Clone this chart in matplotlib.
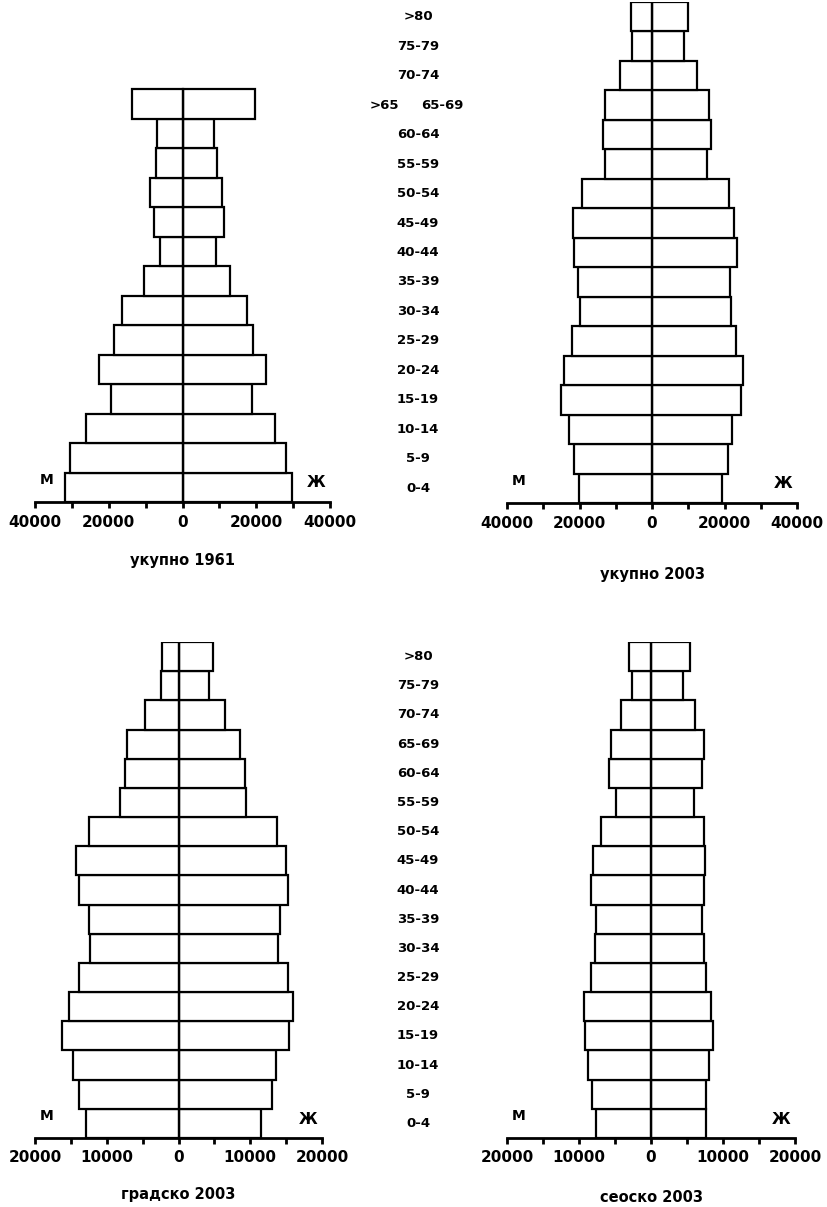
import matplotlib.pyplot as plt
from matplotlib import transforms

# age groups (bottom to top)
age_groups = ['0-4', '5-9', '10-14', '15-19', '20-24', '25-29', '30-34', '35-39',
              '40-44', '45-49', '50-54', '55-59', '60-64', '65-69', '70-74', '75-79', '>80']
age_groups_1961 = age_groups[:13] + ['>65']

# ukupno 1961
male_1961 = [31800, 30400, 26200, 19300, 22700, 18600, 16400, 10400, 6100, 7800,
             8900, 7200, 6800, 13800]
female_1961 = [29600, 28200, 25100, 18900, 22600, 19200, 17600, 13000, 9200, 11200,
               10700, 9400, 8500, 19600]

# ukupno 2003
male_2003 = [20100, 21600, 23000, 25100, 24400, 22100, 19800, 20300, 21500, 21800,
             19400, 13000, 13500, 13000, 8700, 5500, 5700]
female_2003 = [19300, 20900, 22000, 24500, 25000, 23200, 21800, 21500, 23400, 22700,
               21300, 15200, 16300, 15600, 12500, 8800, 10000]

# gradsko 2003
male_urban = [12900, 13900, 14700, 16200, 15300, 13900, 12400, 12500, 13800, 14300,
              12500, 8100, 7500, 7200, 4600, 2500, 2300]
female_urban = [11500, 13000, 13600, 15400, 15900, 15200, 13800, 14200, 15200, 15000,
                13700, 9400, 9200, 8600, 6500, 4300, 4800]

# seosko 2003
male_rural = [7700, 8200, 8700, 9100, 9300, 8300, 7800, 7700, 8300, 8000,
              6900, 4900, 5900, 5600, 4100, 2700, 3000]
female_rural = [7600, 7600, 8100, 8600, 8300, 7700, 7300, 7100, 7300, 7500,
                7300, 6000, 7100, 7300, 6100, 4500, 5400]

titles = ['укупно 1961', 'укупно 2003', 'градско 2003', 'сеоско 2003']

W, H = 827, 1207
fig = plt.figure(figsize=(W / 100, H / 100), dpi=100)
fig.patch.set_facecolor('white')


def px_axes(left, bottom, width, height):
    # rectangle given in image pixels (y from top)
    return fig.add_axes([left / W, (H - bottom) / H, width / W, height / H])


def pyramid(ax, male, female, lim, major, minor, title, title_off):
    n = len(male)
    ys = list(range(n))
    ax.barh(ys, [-m for m in male], height=1.0, color='white', edgecolor='black', linewidth=1.6)
    ax.barh(ys, female, height=1.0, color='white', edgecolor='black', linewidth=1.6)
    # thin centre line
    ax.plot([0, 0], [-0.5, n - 0.5], color='black', linewidth=1.0)
    ax.set_xlim(-lim, lim)
    ax.set_ylim(-0.5, 16.5)
    for s in ['left', 'right', 'top']:
        ax.spines[s].set_visible(False)
    ax.spines['bottom'].set_linewidth(2)
    ax.set_yticks([])
    ax.set_xticks(major)
    ax.set_xticklabels([str(abs(v)) for v in major], fontsize=11, fontweight='bold')
    ax.set_xticks(minor, minor=True)
    ax.tick_params(axis='x', which='both', direction='out', length=4, width=2, pad=5)
    ax.text(-lim * 0.97, 0.25, 'М', fontsize=10, fontweight='bold', ha='left', va='center')
    ax.text(lim * 0.97, 0.15, 'Ж', fontsize=11, fontweight='bold', ha='right', va='center')
    ax.annotate(title, xy=(0, -0.5), xycoords='data', xytext=(0, -title_off),
                textcoords='offset pixels', ha='center', va='center',
                fontsize=10.5, fontweight='bold')
    ax.set_facecolor('none')


ax1 = px_axes(35, 502, 295, 501)
ax2 = px_axes(507, 503, 290, 501)
ax3 = px_axes(35, 1138, 287, 496)
ax4 = px_axes(507, 1138, 288, 496)

big = [-40000, -20000, 0, 20000, 40000]
big_minor = [-30000, -10000, 10000, 30000]
small = [-20000, -10000, 0, 10000, 20000]
small_minor = [-15000, -5000, 5000, 15000]

pyramid(ax1, male_1961, female_1961, 40000, big, big_minor, titles[0], 58)
pyramid(ax2, male_2003, female_2003, 40000, big, big_minor, titles[1], 72)
pyramid(ax3, male_urban, female_urban, 20000, small, small_minor, titles[2], 57)
pyramid(ax4, male_rural, female_rural, 20000, small, small_minor, titles[3], 59)

# age labels in the middle column
for ax in (ax2, ax4):
    tr = transforms.blended_transform_factory(fig.transFigure, ax.transData)
    for i, lab in enumerate(age_groups):
        if ax is ax2 and lab == '65-69':
            ax.text(442 / W, i, lab, transform=tr, ha='center', va='center',
                    fontsize=9.5, fontweight='bold')
            ax.text(384 / W, i, age_groups_1961[-1], transform=tr, ha='center', va='center',
                    fontsize=9.5, fontweight='bold')
        else:
            ax.text(418 / W, i, lab, transform=tr, ha='center', va='center',
                    fontsize=9.5, fontweight='bold')

fig.savefig('out.png', dpi=100, facecolor='white')
